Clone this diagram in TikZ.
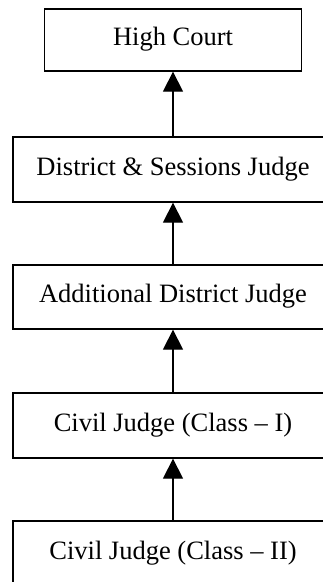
\documentclass[tikz,border=0pt]{standalone}
\usepackage{fontspec}
\setmainfont{Liberation Serif}
\usetikzlibrary{arrows.meta}
\begin{document}
\begin{tikzpicture}[x=1pt,y=-1pt,
  rank/.style={draw, line width=1.3pt, inner sep=0pt, minimum height=#1,
    text height=17pt, text depth=6pt,
    font=\fontsize{26.5}{30}\selectfont},
  promote/.style={-{Triangle[width=20pt,length=20pt]}, line width=1.3pt}]
  \useasboundingbox (0,0) rectangle (323,582);
  \clip (0,0) rectangle (323,582);
  % court hierarchy, lowest rank at the bottom
  \node[rank=62pt, minimum width=257pt] (hc)  at (173,40)    {High Court};
  \node[rank=65pt, minimum width=320pt] (dsj) at (173,169.5) {District \& Sessions Judge};
  \node[rank=64pt, minimum width=320pt] (adj) at (173,297)   {Additional District Judge};
  \node[rank=65pt, minimum width=320pt] (cj1) at (173,425.5) {Civil Judge (Class – I)};
  \node[rank=65pt, minimum width=320pt] (cj2) at (173,553.5) {Civil Judge (Class – II)};
  % appeals go upward
  \draw[promote] (dsj) -- (hc);
  \draw[promote] (adj) -- (dsj);
  \draw[promote] (cj1) -- (adj);
  \draw[promote] (cj2) -- (cj1);
\end{tikzpicture}
\end{document}
